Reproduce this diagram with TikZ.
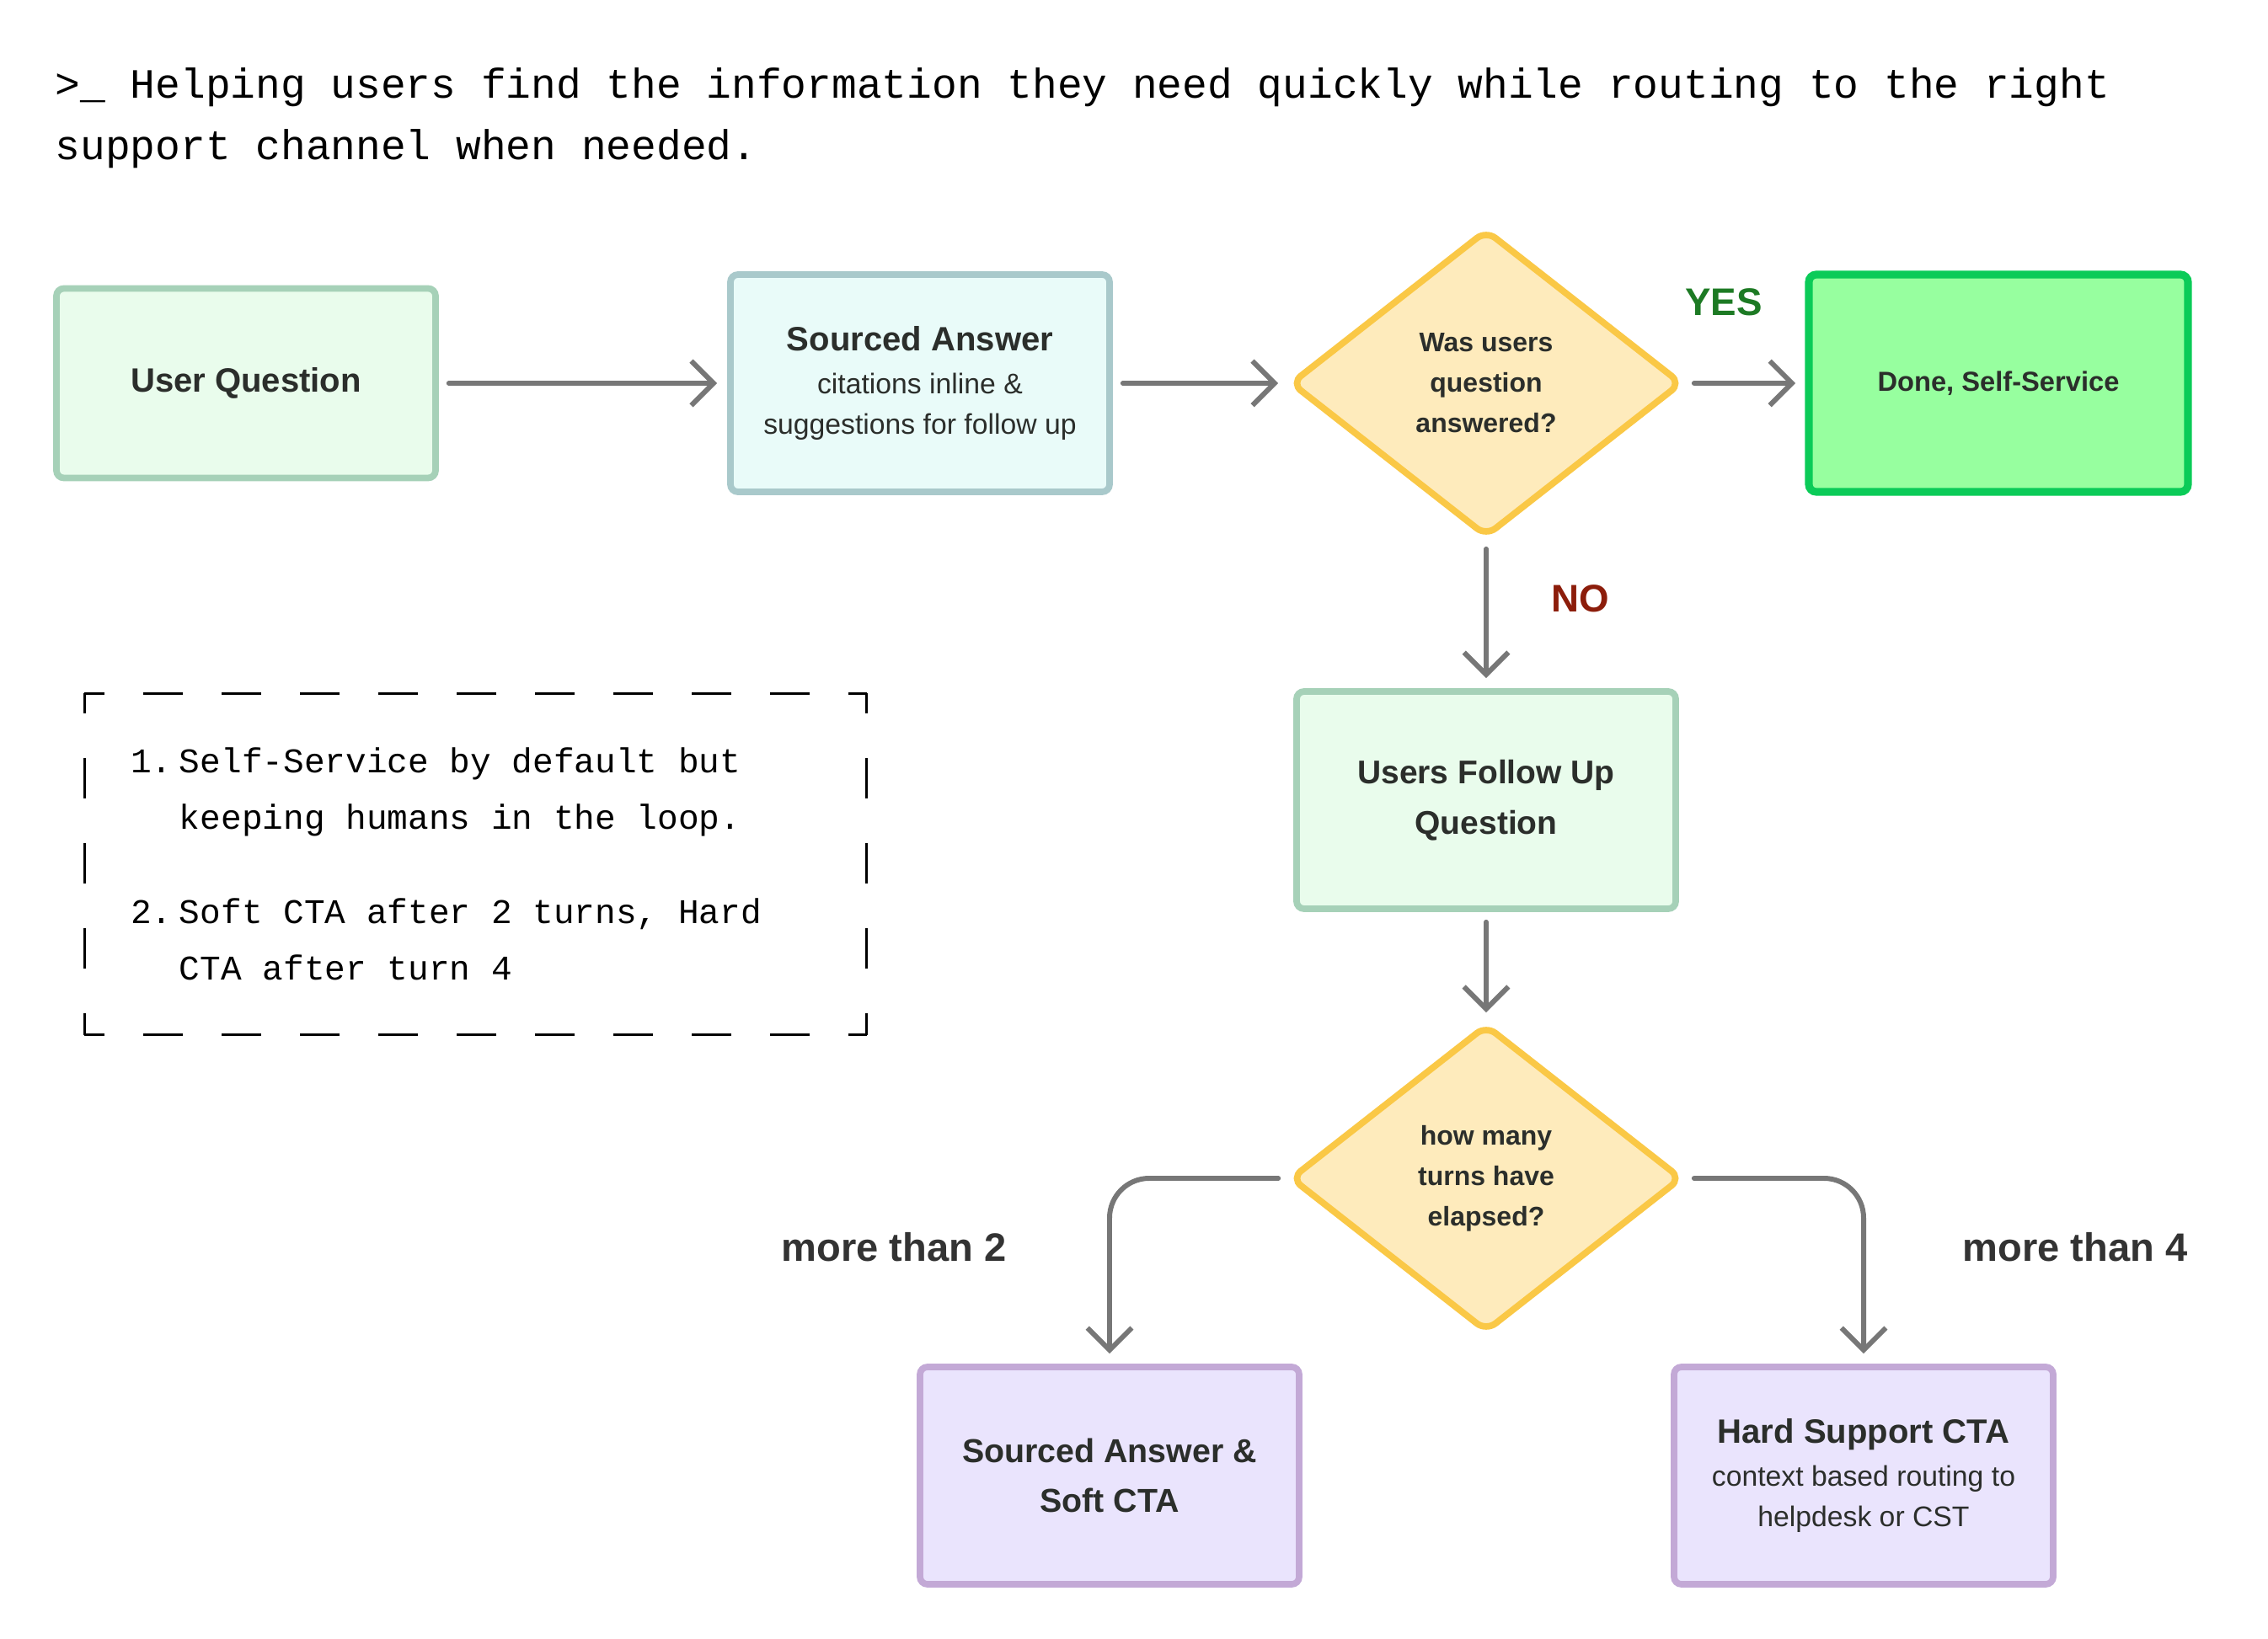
\documentclass[tikz,border=0pt]{standalone}
\usepackage{fontspec}
\setmainfont{Liberation Sans}
\setmonofont{Liberation Mono}
\usetikzlibrary{arrows.meta,positioning,shapes.geometric}
\definecolor{mintfill}{HTML}{E9FCEC}
\definecolor{mintline}{HTML}{A6D1B8}
\definecolor{aquafill}{HTML}{E9FBF9}
\definecolor{aqualine}{HTML}{A9C9CB}
\definecolor{sandfill}{HTML}{FEEBBC}
\definecolor{sandline}{HTML}{FAC846}
\definecolor{donefill}{HTML}{97FF9F}
\definecolor{doneline}{HTML}{0BCB58}
\definecolor{lilacfill}{HTML}{EAE4FD}
\definecolor{lilacline}{HTML}{C3A9D6}
\definecolor{arrowgray}{HTML}{777777}
\definecolor{inkdark}{HTML}{2B2E2B}
\definecolor{yesgreen}{HTML}{1D7A24}
\definecolor{nored}{HTML}{8C1D0B}
\definecolor{labelgray}{HTML}{333333}
\newcommand\nodehead{\fontsize{11.4}{14.6}\selectfont\bfseries}
\newcommand\nodesub{\fontsize{9.6}{13.7}\selectfont}

\begin{document}
\begin{tikzpicture}[
    every node/.style={text=inkdark},
    box/.style={draw, rounded corners=2.5pt, line width=2.2pt, outer sep=0pt, minimum width=4.5cm, minimum height=2.58cm, align=center, inner sep=0pt},
    decision/.style={diamond, draw=sandline, fill=sandfill, line width=2.2pt, outer sep=0pt, rounded corners=4pt, minimum width=4.62cm, minimum height=3.62cm, inner sep=0pt, align=center, font=\fontsize{9.1}{13.7}\selectfont\bfseries},
    flow/.style={draw=arrowgray, line width=1.7pt, line cap=round, line join=round, -{Straight Barb[length=7.5pt,width=15pt]}, shorten >=4.5pt, shorten <=4.5pt},
    noteh/.style={draw=black, line width=0.7pt, dash pattern=on 0.465cm off 0.465cm, dash phase=0.2325cm},
    notev/.style={draw=black, line width=0.7pt, dash pattern=on 0.48cm off 0.53cm, dash phase=0.24cm},
    yeslabel/.style={text=yesgreen, font=\fontsize{13}{15}\selectfont\bfseries},
    nolabel/.style={text=nored, font=\fontsize{13}{15}\selectfont\bfseries},
    branchlabel/.style={text=labelgray, font=\fontsize{13.4}{16}\selectfont\bfseries}
  ]
    \useasboundingbox (0,0) rectangle (26.92,-19.46);

    % heading
    \node[anchor=base west, align=left, inner sep=0pt, text=black, font=\fontsize{14.1}{20.8}\selectfont\ttfamily] (headline) at (0.65,-1.90)
      {>\_ Helping users find the information they need quickly while routing to the right\\support channel when needed.};

    % top row
    \node[box, draw=mintline, fill=mintfill, minimum height=2.25cm, font=\nodehead] (uq) at (2.92,-4.55) {User Question};
    \node[box, draw=aqualine, fill=aquafill, right=3.5cm of uq, font=\nodesub] (sa) {{\nodehead Sourced Answer}\\[1pt]citations inline \&\\suggestions for follow up};
    \node[decision, right=2.16cm of sa] (d1) {Was users\\question\\answered?};
    \node[box, draw=doneline, fill=donefill, line width=2.6pt, right=1.52cm of d1, font=\fontsize{9.3}{12}\selectfont\bfseries] (done) {Done, Self-Service};

    % follow up branch
    \node[box, draw=mintline, fill=mintfill, below=1.85cm of d1, font=\fontsize{11.1}{17}\selectfont\bfseries] (fu) {Users Follow Up\\Question};
    \node[decision, below=1.39cm of fu] (d2) {how many\\turns have\\elapsed?};
    \node[box, draw=lilacline, fill=lilacfill, below=0.43cm of d2, xshift=-4.47cm, font=\fontsize{11.2}{17}\selectfont\bfseries] (soft) {Sourced Answer \&\\Soft CTA};
    \node[box, draw=lilacline, fill=lilacfill, below=0.43cm of d2, xshift=4.48cm, font=\nodesub] (hard) {{\nodehead Hard Support CTA}\\[1pt]context based routing to\\helpdesk or CST};

    % notes
    \node[inner xsep=0.54cm, inner ysep=0pt, text width=8.19cm, minimum height=4.04cm, align=left, text=black, font=\fontsize{11.7}{19}\selectfont\ttfamily] (note) at (5.645,-10.26)
      {\spaceskip=0pt\makebox[16.5pt][l]{1.}Self-Service by default but\\\hspace*{16.5pt}keeping humans in the loop.\\[13pt]\makebox[16.5pt][l]{2.}Soft CTA after 2 turns, Hard\\\hspace*{16.5pt}CTA after turn 4};
    \draw[noteh] (note.north west) -- (note.north east);
    \draw[noteh] (note.south west) -- (note.south east);
    \draw[notev] (note.north west) -- (note.south west);
    \draw[notev] (note.north east) -- (note.south east);

    \draw[flow] (uq) -- (sa);
    \draw[flow] (sa) -- (d1);
    \draw[flow] (d1) -- node[yeslabel, above=0.65cm, xshift=-0.25cm] {YES} (done);
    \draw[flow] (d1) -- node[nolabel, right=0.63cm, yshift=0.18cm] {NO} (fu);
    \draw[flow] (fu) -- (d2);
    \draw[flow, rounded corners=0.47cm] (d2.west) -| node[branchlabel, pos=0.75, left=1.08cm, yshift=0.3cm] {more than 2} (soft.north);
    \draw[flow, rounded corners=0.47cm] (d2.east) -| node[branchlabel, pos=0.75, right=1.03cm, yshift=0.3cm] {more than 4} (hard.north);
  \end{tikzpicture}
\end{document}
